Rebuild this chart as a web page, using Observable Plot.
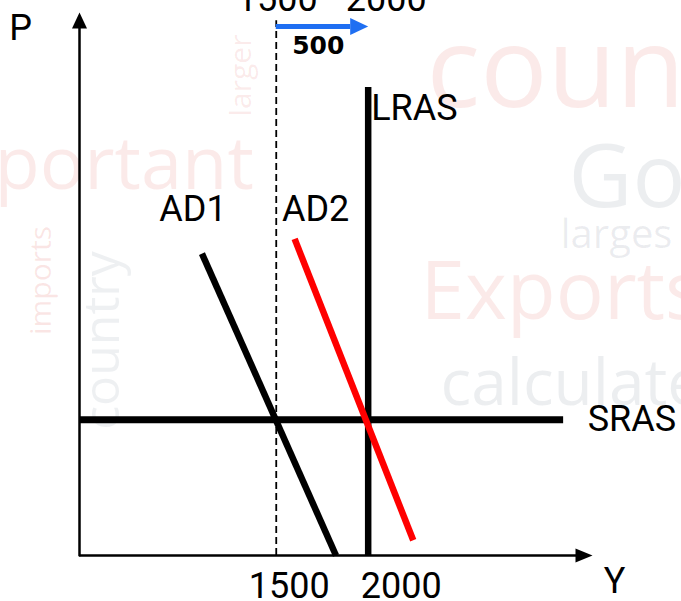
<!DOCTYPE html>
<html><head><meta charset="utf-8">
<script src="https://cdn.jsdelivr.net/npm/d3@7"></script>
<script src="https://cdn.jsdelivr.net/npm/@observablehq/plot@0.6"></script>
<style>
html,body{margin:0;padding:0;background:#fff;overflow:hidden}
#chart svg{display:block}
</style></head><body><div id="chart"></div>
<script>
// ---- data (Y = real output, P = price level, abstract units) ----
const ad1 = [{Y: 1096, P: 55.6}, {Y: 1825, P: 0}];
const ad2 = [{Y: 1600, P: 58.3}, {Y: 2245, P: 2.8}];
const lrasOutput = 2000;
const lrasTopP = 86.2;
const srasPrice = 25;
const srasEndY = 3063;
const initialOutput = 1500;
const newOutput = 2000;
const shiftLabel = "500";
const tickValues = [1500, 2000];
const tickLabels = ["1500", "2000"];
const curveLabels = ["AD1", "AD2", "LRAS", "SRAS"];
const axisLabels = ["P", "Y"];
const watermarkWords = ["count", "portant", "Go", "larges", "Exports", "calculate", "imports", "country", "larger"];

// ---- scales ----
const xMin = 430, xMax = 3220, pMax = 100;
const font = "'Liberation Sans Narrow', 'Arial Narrow', 'Roboto', sans-serif";
const labelSize = 36;
const blue = "#1f6ff2";

// arrow heads as custom symbols (tip at origin)
const headUp = {draw(c) { c.moveTo(0, 0); c.lineTo(7.5, 16); c.lineTo(-7.5, 16); c.closePath(); }};
const headRight = {draw(c) { c.moveTo(0, 0); c.lineTo(-17, -7); c.lineTo(-17, 7); c.closePath(); }};
const headRightBig = {draw(c) { c.moveTo(0, 0); c.lineTo(-18, -8.5); c.lineTo(-18, 8.5); c.closePath(); }};

function wm(i, x, y, size, color, rotate = 0, anchor = "start", op = 0.1) {
  return Plot.text([watermarkWords[i]], {
    text: d => d, frameAnchor: "top-left", dx: x, dy: y, fontSize: size,
    fontFamily: "'Open Sans', sans-serif", fill: color, fillOpacity: op,
    textAnchor: anchor, lineAnchor: "bottom", rotate
  });
}
const red = "#d8322a", gray = "#2c3e55";

const chart = Plot.plot({
  width: 681, height: 601,
  margin: 0,
  x: {domain: [xMin, xMax], range: [79, 592], axis: null},
  y: {domain: [0, pMax], range: [555, 12], axis: null},
  style: {background: "white", fontFamily: font},
  marks: [
    // faint word-cloud background
    wm(0, 426, 106, 112, red),
    wm(1, -6, 188, 74, red),
    wm(2, 568, 206, 88, gray, 0, "start", 0.09),
    wm(3, 560, 247, 40, gray, 0, "start", 0.09),
    wm(4, 420, 318, 80, red),
    wm(5, 440, 404, 64, gray, 0, "start", 0.09),
    wm(6, 50, 280, 30, red, -90, "middle", 0.12),
    wm(7, 118, 340, 50, gray, -90, "middle", 0.08),
    wm(8, 250, 75, 30, red, -90, "middle"),
    // axes
    Plot.ruleX([xMin], {y1: -0.25, y2: pMax - 2.5, stroke: "black", strokeWidth: 2.5}),
    Plot.ruleY([0], {x1: xMin, x2: xMax - 60, stroke: "black", strokeWidth: 2.5}),
    Plot.dot([{Y: xMin, P: pMax}], {x: "Y", y: "P", symbol: headUp, fill: "black", stroke: "none"}),
    Plot.dot([{Y: xMax, P: 0}], {x: "Y", y: "P", symbol: headRight, fill: "black", stroke: "none"}),
    // dashed reference at initial output
    Plot.ruleX([initialOutput], {y1: 0, y2: 98.5, stroke: "black", strokeWidth: 1.8, strokeDasharray: "7,4"}),
    // SRAS and LRAS
    Plot.ruleY([srasPrice], {x1: xMin, x2: srasEndY, stroke: "black", strokeWidth: 7}),
    Plot.ruleX([lrasOutput], {y1: 0, y2: lrasTopP, stroke: "black", strokeWidth: 6.5}),
    // AD curves
    Plot.line(ad1, {x: "Y", y: "P", stroke: "black", strokeWidth: 6.5, strokeLinecap: "butt"}),
    Plot.line(ad2, {x: "Y", y: "P", stroke: "#ff0000", strokeWidth: 6.5, strokeLinecap: "butt"}),
    // blue shift arrow
    Plot.ruleY([97.4], {x1: initialOutput, x2: 1905, stroke: blue, strokeWidth: 5}),
    Plot.dot([{Y: newOutput, P: 97.4}], {x: "Y", y: "P", symbol: headRightBig, fill: blue, stroke: "none"}),
    Plot.text([shiftLabel], {x: initialOutput, y: 97.4, text: d => d, dx: 42, dy: 27, fontFamily: "'DejaVu Sans', sans-serif", fontWeight: "bold", fontSize: 25, textAnchor: "middle", lineAnchor: "bottom", fill: "black"}),
    // curve labels
    Plot.text([curveLabels[0]], {x: ad1[0].Y, y: ad1[0].P, text: d => d, dx: -9, dy: -33, fontSize: labelSize, textAnchor: "middle", lineAnchor: "bottom"}),
    Plot.text([curveLabels[1]], {x: ad2[0].Y, y: ad2[0].P, text: d => d, dx: 21, dy: -18, fontSize: labelSize, textAnchor: "middle", lineAnchor: "bottom"}),
    Plot.text([curveLabels[2]], {x: lrasOutput, y: lrasTopP, text: d => d, dx: 3, dy: 33, fontSize: labelSize, textAnchor: "start", lineAnchor: "bottom"}),
    Plot.text([curveLabels[3]], {x: srasEndY, y: srasPrice, text: d => d, dx: 24, dy: 11, fontSize: labelSize, textAnchor: "start", lineAnchor: "bottom"}),
    // axis labels
    Plot.text([axisLabels[0]], {x: xMin, y: pMax, text: d => d, dx: -59, dy: 27, fontSize: labelSize, textAnchor: "middle", lineAnchor: "bottom"}),
    Plot.text([axisLabels[1]], {x: xMax, y: 0, text: d => d, dx: 22, dy: 37, fontSize: labelSize, textAnchor: "middle", lineAnchor: "bottom"}),
    // tick labels below axis
    Plot.text([0], {x: tickValues[0], y: 0, text: i => tickLabels[i], dx: 13, dy: 42, fontSize: labelSize, textAnchor: "middle", lineAnchor: "bottom"}),
    Plot.text([1], {x: tickValues[1], y: 0, text: i => tickLabels[i], dx: 33, dy: 42, fontSize: labelSize, textAnchor: "middle", lineAnchor: "bottom"}),
    // tick labels at top (partially cut)
    Plot.text([0], {x: tickValues[0], y: pMax, text: i => tickLabels[i], dx: 1, dy: -2, fontSize: labelSize, textAnchor: "middle", lineAnchor: "bottom"}),
    Plot.text([1], {x: tickValues[1], y: pMax, text: i => tickLabels[i], dx: 18, dy: -2, fontSize: labelSize, textAnchor: "middle", lineAnchor: "bottom"})
  ]
});
document.getElementById("chart").appendChild(chart);
</script>
</body></html>
